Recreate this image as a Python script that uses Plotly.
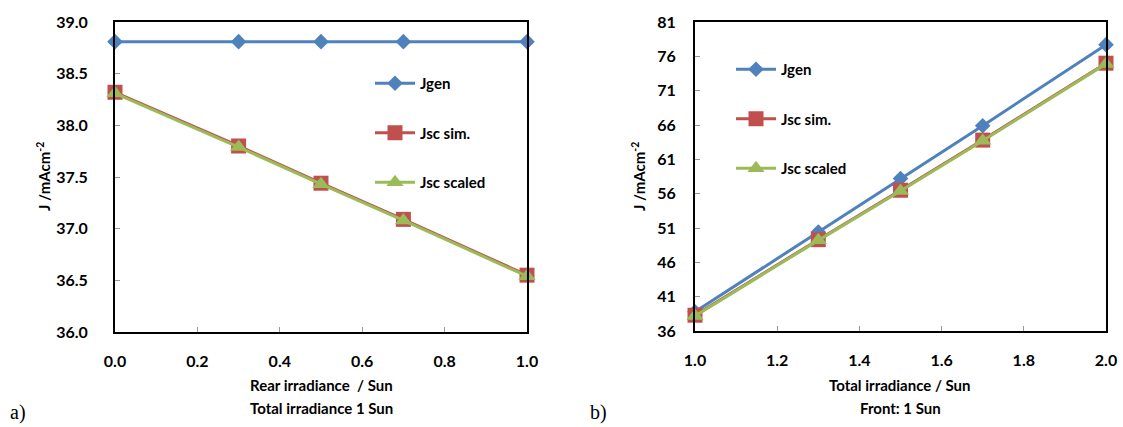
import plotly.graph_objects as go

# ---- data ----
rear_irr = [0.0, 0.3, 0.5, 0.7, 1.0]
a_jgen = [38.81, 38.81, 38.81, 38.81, 38.81]
a_jsc_sim = [38.32, 37.80, 37.44, 37.09, 36.55]
a_jsc_scaled = [38.31, 37.79, 37.43, 37.08, 36.54]

total_irr = [1.0, 1.3, 1.5, 1.7, 2.0]
b_jgen = [38.8, 50.4, 58.2, 65.9, 77.7]
b_jsc_sim = [38.3, 49.3, 56.5, 63.8, 75.0]
b_jsc_scaled = [38.2, 49.2, 56.4, 63.7, 74.9]

series_names = ["Jgen", "Jsc sim.", "Jsc scaled"]
colors = ["#4F81BD", "#C0504D", "#9BBB59"]
symbols = ["diamond", "square", "triangle-up"]
msizes = [12, 15, 15]

W, H = 1123, 427
FONT = "Lato"

fig = go.Figure()

panels = [
    (rear_irr, [a_jgen, a_jsc_sim, a_jsc_scaled], "x", "y", "legend"),
    (total_irr, [b_jgen, b_jsc_sim, b_jsc_scaled], "x2", "y2", "legend2"),
]
for xs, ys_list, xa, ya, lg in panels:
    for i, ys in enumerate(ys_list):
        fig.add_trace(go.Scatter(
            x=xs, y=ys, name=series_names[i], mode="lines+markers",
            line=dict(color=colors[i], width=3),
            marker=dict(symbol=symbols[i], size=msizes[i], color=colors[i]),
            xaxis=xa, yaxis=ya, legend=lg, legendgroup=lg + str(i),
            cliponaxis=False,
        ))

def px_x(p):
    return p / W

def px_y(p):
    return 1 - p / H

tickfont = dict(family=FONT, size=16, color="black", weight="bold")
ax_common = dict(showgrid=False, zeroline=False, showline=True, linecolor="black",
                 linewidth=2, mirror=True, ticks="inside", ticklen=5,
                 tickcolor="#999999", tickfont=tickfont, automargin=False)

legend_font = dict(family=FONT, size=15, color="black", weight="bold")
fig.update_layout(
    width=W, height=H,
    margin=dict(l=0, r=0, t=0, b=0, pad=0, autoexpand=False),
    paper_bgcolor="white", plot_bgcolor="white",
    font=dict(family=FONT, color="black"),
    xaxis=dict(domain=[px_x(115), px_x(527)], range=[0, 1], dtick=0.2, tickformat=".1f",
               anchor="y", ticklabelstandoff=14, **ax_common),
    yaxis=dict(domain=[px_y(332), px_y(22)], range=[36, 39], dtick=0.5, tickformat=".1f",
               anchor="x", ticklabelstandoff=22, **ax_common),
    xaxis2=dict(domain=[px_x(695), px_x(1106)], range=[1, 2], dtick=0.2, tickformat=".1f",
                anchor="y2", ticklabelstandoff=14, **ax_common),
    yaxis2=dict(domain=[px_y(331), px_y(22)], range=[36, 81], tick0=36, dtick=5,
                anchor="x2", ticklabelstandoff=14, **ax_common),
    legend=dict(x=px_x(370), y=px_y(67), xanchor="left", yanchor="top",
                bgcolor="rgba(0,0,0,0)", tracegroupgap=27, itemwidth=40,
                font=legend_font),
    legend2=dict(x=px_x(731), y=px_y(53), xanchor="left", yanchor="top",
                 bgcolor="rgba(0,0,0,0)", tracegroupgap=27, itemwidth=40,
                 font=legend_font),
)

title_font = dict(family=FONT, size=15, color="black", weight="bold")
annots = [
    ("Rear irradiance  / Sun", 321, 385, 0),
    ("Total irradiance 1 Sun", 321, 408, 0),
    ("Total irradiance / Sun", 900, 385, 0),
    ("Front: 1 Sun", 900, 408, 0),
    ("J /mAcm<sup>-2</sup>", 43, 177, -90),
    ("J /mAcm<sup>-2</sup>", 638, 177, -90),
]
for text, x, y, ang in annots:
    fig.add_annotation(text=text, x=px_x(x), y=px_y(y), xref="paper", yref="paper",
                       showarrow=False, xanchor="center", yanchor="middle",
                       textangle=ang, font=title_font)

for text, x in [("a)", 18), ("b)", 598)]:
    fig.add_annotation(text=text, x=px_x(x), y=px_y(412), xref="paper", yref="paper",
                       showarrow=False, xanchor="center", yanchor="middle",
                       font=dict(family="Liberation Serif", size=20, color="black"))

fig.write_html(
    "out.html",
    config={"displayModeBar": False},
    post_script="document.body.style.margin='0';document.body.style.overflow='hidden';",
)
